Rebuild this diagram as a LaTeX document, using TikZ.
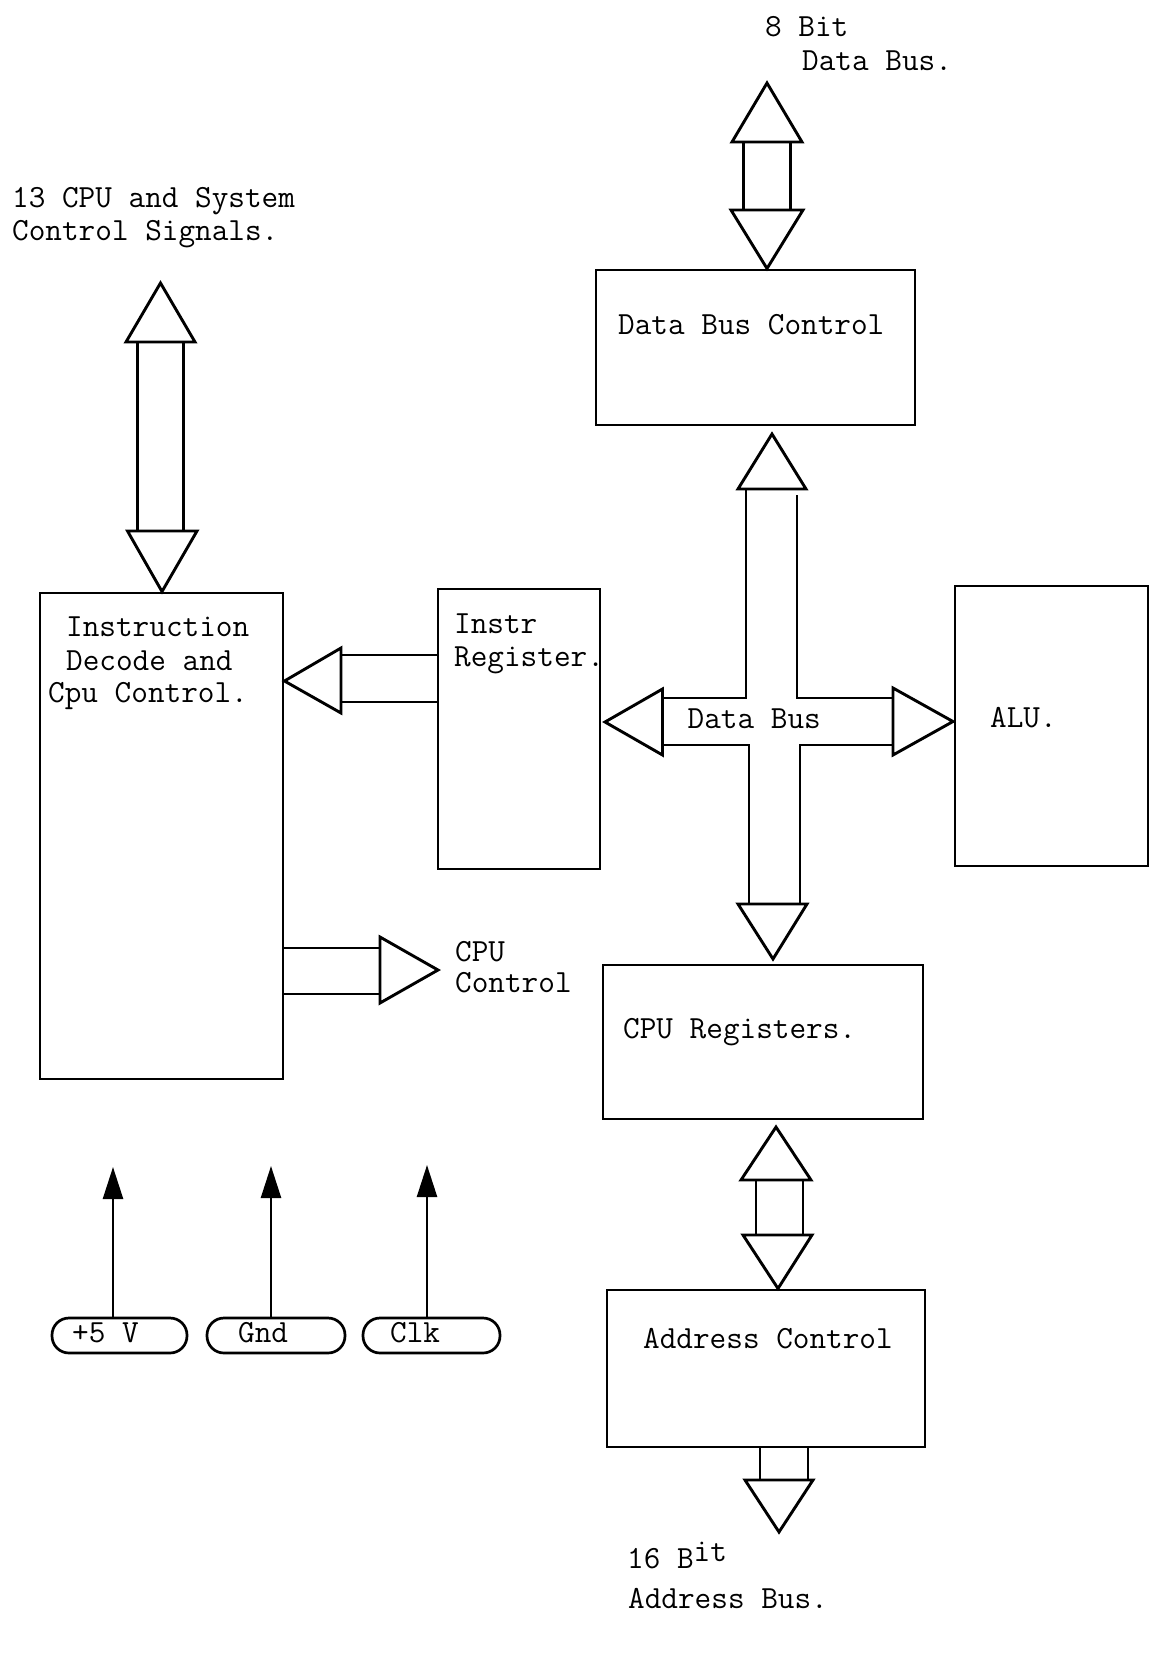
\documentclass[tikz,border=0pt]{standalone}
\usepackage{fontspec}
\usetikzlibrary{arrows.meta,calc}
\tikzset{
  box/.style={draw, line width=2.9pt, inner sep=0pt},
  pill/.style={draw, line width=2.7pt, rounded corners=17pt, inner sep=0pt, minimum height=35pt},
  fat/.style={draw, line width=2.9pt},
  txt/.style={anchor=base west, inner sep=0pt, font=\ttfamily\fontsize{32.3}{33}\selectfont\addfontfeatures{FakeBold=2.5}},
  sig/.style={line width=2.5pt, -{Triangle[length=32pt,width=20pt]}},
}
\begin{document}
\begin{tikzpicture}[x=1pt,y=-1pt]
\useasboundingbox (0,0) rectangle (1152,1663);
\fill[white] (0,0) rectangle (1152,1663);

% boxes
\node[box, minimum width=319pt, minimum height=155pt] (dbc)  at (755.5,347.5) {};
\node[box, minimum width=243pt, minimum height=486pt] (dec)  at (161.5,836) {};
\node[box, minimum width=162pt, minimum height=280pt] (ir)   at (519,729) {};
\node[box, minimum width=193pt, minimum height=280pt] (alu)  at (1051.5,726) {};
\node[box, minimum width=320pt, minimum height=154pt] (regs) at (763,1042) {};
\node[box, minimum width=318pt, minimum height=157pt] (addr) at (766,1368.5) {};

% pills
\node[pill, minimum width=135pt] (p5)  at (119.5,1335.5) {};
\node[pill, minimum width=138pt] (gnd) at (276,1335.5) {};
\node[pill, minimum width=137pt] (clk) at (431.5,1335.5) {};

% texts
\node[txt] (t8a) at (765,36) {8 Bit};
\node[txt] (t8b) at (802,70) {Data Bus.};
\node[txt] (t13a) at (12,207) {13 CPU and System};
\node[txt] (t13b) at (12,240) {Control Signals.};
\node[txt] (tdbc) at (618,334) {Data Bus Control};
\node[txt] (tdec1) at (66,636) {Instruction};
\node[txt] (tdec2) at (66,670) {Decode and};
\node[txt] (tdec3) at (48,702) {Cpu Control.};
\node[txt] (tir1) at (454,633) {Instr};
\node[txt] (tir2) at (454,666) {Register.};
\node[txt] (tdb) at (687.5,728) {Data Bus};
\node[txt] (talu) at (990,727) {ALU.};
\node[txt] (tcc1) at (455,961) {CPU};
\node[txt] (tcc2) at (455,992) {Control};
\node[txt] (tregs) at (623,1038) {CPU Registers.};
\node[txt] (taddr) at (643,1348) {Address Control};
\node[txt] (t16a) at (627,1568) {16 B\raisebox{7pt}{it}};
\node[txt] (t16b) at (628,1608) {Address Bus.};
\node[txt] (tp5) at (72,1342) {+5 V};
\node[txt] (tgnd) at (238,1342) {Gnd};
\node[txt] (tclk) at (390,1342) {Clk};

% 8 bit data bus double arrow
\coordinate (dbtop) at (767,83);
\draw[fat] (dbtop) -- (802,142) -- (732,142) -- cycle;
\draw[fat] (743.5,142) -- (743.5,210) (790.5,142) -- (790.5,210);
\draw[fat] (731,210) -- (803,210) -- (dbtop |- dbc.north) -- cycle;

% control signals double arrow
\coordinate (cstop) at (160.5,283);
\draw[fat] (cstop) -- (195,342) -- (126,342) -- cycle;
\draw[fat] (137.5,342) -- (137.5,531) (183.5,342) -- (183.5,531);
\draw[fat] (127.5,531) -- (197,531) -- (162,593 |- dec.north) -- cycle;

% instr register -> decode
\coordinate (ira) at (341,681);
\draw[fat] (ira -| dec.east) -- (341,648) -- (341,713) -- cycle;
\draw[fat] (341,655) -- (ir.west |- 0,655) (341,702) -- (ir.west |- 0,702);

% data bus cross
\draw[fat] (772,434) -- (806,489) -- (738,489) -- cycle;
\draw[fat] (746,489) -- (746,698) -- (662.5,698);
\draw[fat] (797,495) -- (797,698) -- (893,698);
\draw[fat] (662.5,745) -- (749,745) -- (749,904);
\draw[fat] (893,745) -- (800,745) -- (800,904);
\draw[fat] (662.5,689) -- (662.5,755) -- (605,722) -- cycle;
\draw[fat] (893,688) -- (893,755) -- (953,721.5) -- cycle;
\draw[fat] (738,904) -- (807,904) -- (773,959) -- cycle;

% CPU control
\draw[fat] (dec.east |- 0,948) -- (380,948) (dec.east |- 0,994) -- (380,994);
\draw[fat] (380,937) -- (380,1003) -- (438,970) -- cycle;

% registers <-> address control
\draw[fat] (776,1127) -- (811,1180) -- (741,1180) -- cycle;
\draw[fat] (756,1180) -- (756,1235) (803,1180) -- (803,1235);
\draw[fat] (743,1235) -- (812,1235) -- (778,1290 |- addr.north) -- cycle;

% address bus out
\draw[fat] (760,1447 |- addr.south) -- (760,1480) (808,1447 |- addr.south) -- (808,1480);
\draw[fat] (745,1480) -- (813,1480) -- (779,1532) -- cycle;

% power / clock signals
\coordinate (s5) at (113,1167);
\coordinate (sg) at (271,1166);
\coordinate (sc) at (427,1165);
\draw[sig] (s5 |- p5.north) -- (s5);
\draw[sig] (sg |- gnd.north) -- (sg);
\draw[sig] (sc |- clk.north) -- (sc);
\end{tikzpicture}
\end{document}
